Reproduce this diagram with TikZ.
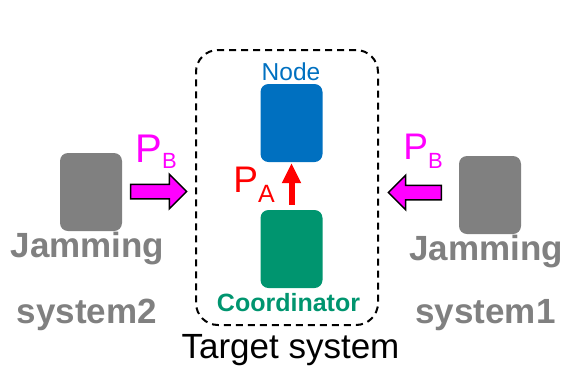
\documentclass[tikz,border=0pt]{standalone}
\usepackage{fontspec}
\setmainfont{Liberation Sans}
\usepackage{xcolor}
\usepackage{tikz}
\usetikzlibrary{arrows.meta,positioning,shapes.arrows,calc}
\definecolor{nodeblue}{HTML}{0070C0}
\definecolor{coordgreen}{HTML}{00956F}
\definecolor{jamgray}{HTML}{808080}
\definecolor{powerpink}{HTML}{FF00FF}
\tikzset{
  box/.style={rounded corners=8pt, minimum width=62pt, minimum height=78pt, inner sep=0pt},
  jamtext/.style={anchor=base, text=jamgray, font=\fontsize{35}{35}\selectfont\bfseries},
  pbarrow/.style={single arrow, draw=black, line width=1.5pt, fill=powerpink, inner xsep=0pt,
    inner ysep=6.5pt, text height=0pt, text depth=0pt, minimum width=0pt,
    single arrow head extend=10pt, minimum height=55pt},
  powertext/.style={anchor=base, inner sep=0pt}
}

\begin{document}
\begin{tikzpicture}[x=1pt,y=-1pt]
    \useasboundingbox (0,0) rectangle (566,368);
    \node[draw, dashed, dash pattern=on 7pt off 5pt, line width=2pt, rounded corners=22pt,
      minimum width=182pt, minimum height=275pt] at (287,187.5) (target) {};

    \node[box, fill=nodeblue] at (291.5,123) (node) {};
    \node[box, fill=coordgreen] at (291.5,249) (coord) {};
    \node[box, fill=jamgray] at (91,192) (jam2) {};
    \node[box, fill=jamgray] at (490,195) (jam1) {};

    \node[anchor=base, text=nodeblue, font=\fontsize{24.5}{24.5}\selectfont] at (291,80) (nodelabel) {Node};
    \node[anchor=base, text=coordgreen, font=\fontsize{25}{25}\selectfont\bfseries] at (288.5,311) (coordlabel) {Coordinator};
    \node[anchor=base, font=\fontsize{35}{35}\selectfont] at (290.5,358) (targetlabel) {Target system};

    \node[jamtext] at (87.5,257) (jam2a) {Jamming};
    \node[jamtext] at (87,323) (jam2b) {system2};
    \node[jamtext] at (486,260) (jam1a) {Jamming};
    \node[jamtext] at (485.5,323) (jam1b) {system1};

    \node[powertext, text=powerpink] at (156,162) (pb2) {\fontsize{40}{40}\selectfont P\raisebox{-6pt}{\fontsize{22}{22}\selectfont B}};
    \node[powertext, text=powerpink] at (423,159) (pb1) {\fontsize{37}{37}\selectfont P\raisebox{-9pt}{\fontsize{22}{22}\selectfont B}};
    \node[powertext, text=red] at (254,192) (pa) {\fontsize{37}{37}\selectfont P\raisebox{-10pt}{\fontsize{25}{25}\selectfont A}};

    \node[pbarrow, minimum height=56pt] at (155,191.5) (arr2) {};
    \node[pbarrow, minimum height=53pt, shape border rotate=180] at (418.5,192.5) (arr1) {};

    \draw[red, line width=6pt, -{Triangle[length=20pt, width=18pt]}, shorten <=5pt, shorten >=1pt] (coord.north) -- (node.south);
\end{tikzpicture}
\end{document}
